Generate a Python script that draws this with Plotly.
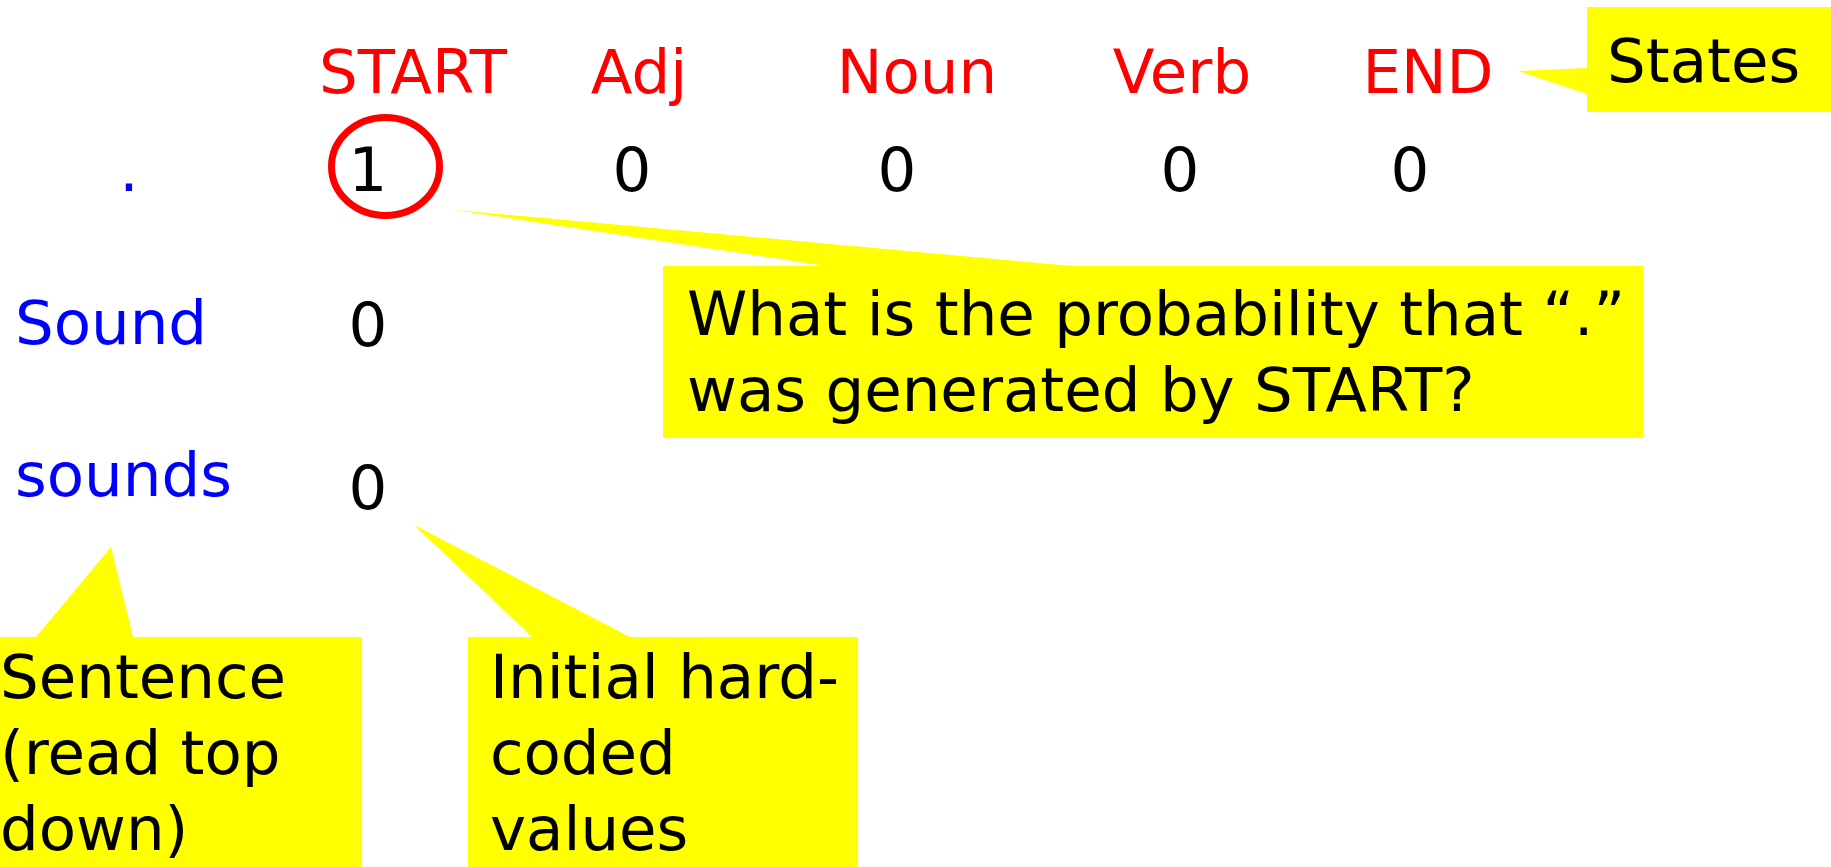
import plotly.graph_objects as go

# ---------------- data ----------------
states = ["START", "Adj", "Noun", "Verb", "END"]
words = [".", "Sound", "sounds"]
row_dot = [1, 0, 0, 0, 0]      # initial values for "." across states
row_sound = [0]                # START value for "Sound"
row_sounds = [0]               # START value for "sounds"
callout_question = ["What is the probability that \u201c.\u201d", "was generated by START?"]
callout_states = ["States"]
callout_sentence = ["Sentence", "(read top", "down)"]
callout_initial = ["Initial hard-", "coded", "values"]

# ---------------- layout constants ----------------
W, H = 1831, 867
FS = 61
FONT = "DejaVu Sans"
RED, BLUE, BLACK, YELLOW = "#FF0000", "#0000FF", "#000000", "#FFFF00"
SHIFT = 0.35 * FS - 4  # baseline -> text anchor (middle)

state_x = [413, 639, 917, 1182, 1428]
header_base = 95
value_x = [368, 632, 897, 1180, 1410]
value_base = [193, 348, 511]
word_x = [129, 15, 15]
word_base = [193, 346, 498]
LINE = 76

fig = go.Figure()


def text_trace(xs, ys, texts, color, pos):
    fig.add_trace(go.Scatter(
        x=xs, y=ys, text=texts, mode="text", textposition=pos,
        textfont=dict(family=FONT, size=FS, color=color),
        hoverinfo="skip", showlegend=False, cliponaxis=False))


# header states
text_trace(state_x, [header_base - SHIFT] * len(states), states, RED, "middle center")

# values grid
vals = [row_dot, row_sound, row_sounds]
for r, row in enumerate(vals):
    text_trace(value_x[:len(row)], [value_base[r] - SHIFT] * len(row),
               [str(v) for v in row], BLACK, "middle center")

# sentence words
text_trace([word_x[0]], [word_base[0] - SHIFT], [words[0]], BLUE, "middle center")
text_trace(word_x[1:], [b - SHIFT for b in word_base[1:]], words[1:], BLUE, "middle right")

# callout shapes
callouts = [
    "M663,266 L827,266 L455,210 L1072,266 L1643,266 L1643,438 L663,438 Z",
    "M1587,7 L1845,7 L1845,112 L1587,112 L1587,94 L1518,71 L1587,68 Z",
    "M-20,637 L36,637 L111,547 L133,637 L362,637 L362,880 L-20,880 Z",
    "M468,637 L532,637 L414,525 L630,637 L858,637 L858,880 L468,880 Z",
]
shapes = [dict(type="path", path=p, fillcolor=YELLOW, line=dict(width=0), layer="below")
          for p in callouts]
shapes.append(dict(type="circle", x0=331.5, x1=439.5, y0=117.5, y1=215.5,
                   line=dict(color=RED, width=7), layer="above"))


# callout texts
def callout_text(x, base0, lines):
    text_trace([x] * len(lines), [base0 + i * LINE - SHIFT for i in range(len(lines))],
               lines, BLACK, "middle right")


callout_text(687, 337, callout_question)
callout_text(1607, 84, callout_states)
callout_text(0, 700, callout_sentence)
callout_text(490, 700, callout_initial)

fig.update_layout(
    width=W, height=H, margin=dict(l=0, r=0, t=0, b=0),
    paper_bgcolor="white", plot_bgcolor="white",
    xaxis=dict(range=[0, W], visible=False, fixedrange=True),
    yaxis=dict(range=[H, 0], visible=False, fixedrange=True),
    shapes=shapes, showlegend=False,
)

fig.write_html("out.html", config={"displayModeBar": False},
               post_script="document.body.style.margin='0';document.body.style.overflow='hidden';")
